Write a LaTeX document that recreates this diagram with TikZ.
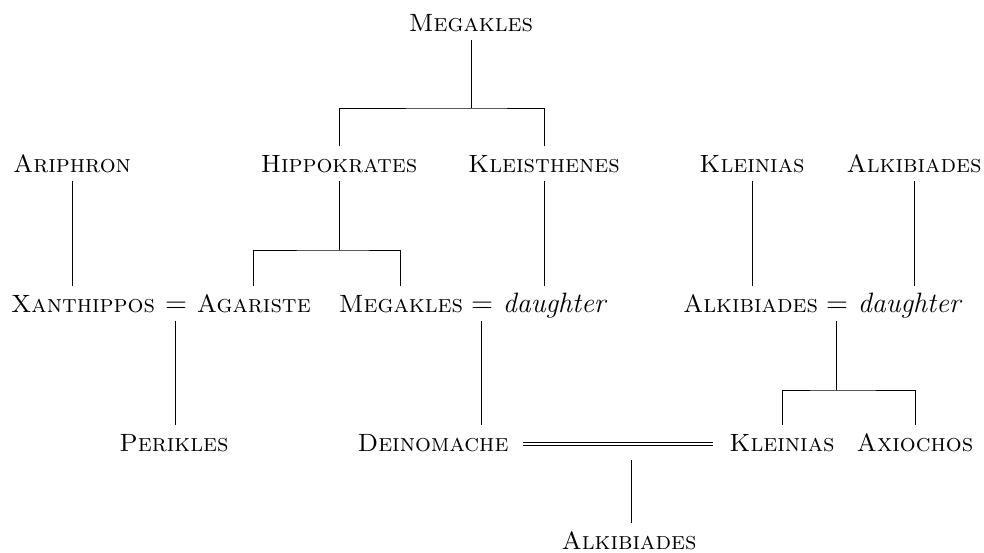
\documentclass[tikz,border=0pt]{standalone}
\usepackage{amsmath}
\usepackage{tikz}
\usetikzlibrary{positioning}

\tikzset{
    person/.style={font=\fontsize{12.5}{15}\selectfont\scshape, anchor=base, inner sep=0pt,
        outer xsep=0pt, outer ysep=4.5pt, text height=8.6pt, text depth=0pt},
    spouse/.style={person, font=\fontsize{14}{16}\selectfont\itshape},
    eqsign/.style={person, font=\fontsize{14}{16}\selectfont},
    kin/.style={line width=0.5pt},
    marr/.style={line width=0.55pt, double, double distance=1.2pt, shorten <=7.5pt, shorten >=8pt}
}

\begin{document}
\begin{tikzpicture}[x=0.5pt,y=-0.5pt]
    \useasboundingbox (0,0) rectangle (984,552);

    \node[person] (megaklesA) at (471,31) {Megakles};

    \node[person] (ariphron) at (72,172) {Ariphron};
    \node[person] (hippokrates) at (339,172) {Hippokrates};
    \node[person] (kleisthenes) at (544,172) {Kleisthenes};
    \node[person] (kleiniasA) at (752,172) {Kleinias};
    \node[person] (alkibiadesA) at (914,172) {Alkibiades};

    \node[person, anchor=base east] (xanthippos) at (155,312) {Xanthippos};
    \node[eqsign, base right=5pt of xanthippos] (eqX) {$=$};
    \node[person, base right=5pt of eqX] (agariste) {Agariste};
    \node[person, anchor=base east] (megaklesB) at (463,312) {Megakles};
    \node[eqsign, base right=4pt of megaklesB] (eqM) {$=$};
    \node[spouse, base right=5pt of eqM] (daughterK) {daughter};
    \node[person, anchor=base east] (alkibiadesB) at (818,312) {Alkibiades};
    \node[eqsign, base right=4pt of alkibiadesB] (eqA) {$=$};
    \node[spouse, base right=5pt of eqA] (daughterA) {daughter};

    \node[person] (perikles) at (174,451) {Perikles};
    \node[person] (deinomache) at (433,451) {Deinomache};
    \node[person] (kleiniasB) at (782,451) {Kleinias};
    \node[person] (axiochos) at (915,451) {Axiochos};

    \node[person] (alkibiadesC) at (629,549) {Alkibiades};

    \coordinate (topbar) at (megaklesA.south |- 0,108);
    \draw[kin] (megaklesA) -- (topbar);
    \draw[kin] (hippokrates.north) |- (topbar) -| (kleisthenes.north);

    \coordinate (hipbar) at (hippokrates.south |- 0,250);
    \draw[kin] (hippokrates) -- (hipbar);
    \draw[kin] (agariste.north) |- (hipbar) -| (megaklesB.north);

    \draw[kin] (ariphron) -- (ariphron |- xanthippos.north);
    \draw[kin] (kleisthenes) -- (kleisthenes |- daughterK.north);
    \draw[kin] (kleiniasA) -- (kleiniasA |- alkibiadesB.north);
    \draw[kin] (alkibiadesA) -- (alkibiadesA |- daughterA.north);

    \draw[kin] (eqX) -- (eqX |- perikles.north);
    \draw[kin] (eqM) -- (eqM |- deinomache.north);

    \coordinate (alkbar) at (eqA.south |- 0,390);
    \draw[kin] (eqA) -- (alkbar);
    \draw[kin] (kleiniasB.north) |- (alkbar) -| (axiochos.north);

    \draw[marr] ([yshift=3.5pt]deinomache.base east) -- ([yshift=3.5pt]kleiniasB.base west);
    \coordinate (issue) at (631,460);
    \draw[kin] (issue) -- (issue |- alkibiadesC.north);
\end{tikzpicture}
\end{document}
